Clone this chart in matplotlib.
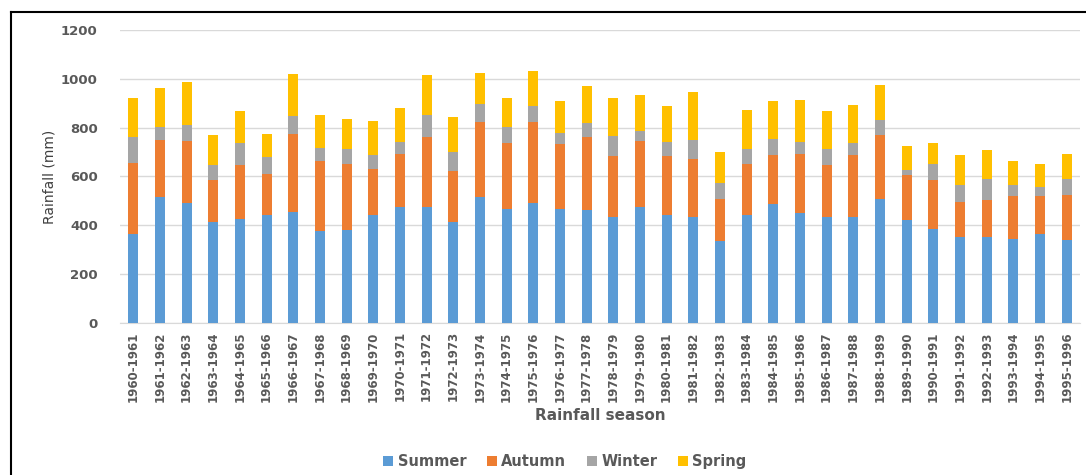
import matplotlib.pyplot as plt
import numpy as np

seasons = ['1960-1961', '1961-1962', '1962-1963', '1963-1964', '1964-1965', '1965-1966',
           '1966-1967', '1967-1968', '1968-1969', '1969-1970', '1970-1971', '1971-1972',
           '1972-1973', '1973-1974', '1974-1975', '1975-1976', '1976-1977', '1977-1978',
           '1978-1979', '1979-1980', '1980-1981', '1981-1982', '1982-1983', '1983-1984',
           '1984-1985', '1985-1986', '1986-1987', '1987-1988', '1988-1989', '1989-1990',
           '1990-1991', '1991-1992', '1992-1993', '1993-1994', '1994-1995', '1995-1996']

summer = [366, 514, 491, 412, 427, 441, 454, 378, 382, 443, 473, 473,
          412, 514, 466, 491, 468, 461, 436, 473, 443, 434, 337, 443,
          487, 450, 434, 432, 507, 420, 385, 351, 351, 344, 364, 341]
autumn = [291, 236, 255, 175, 221, 170, 319, 286, 270, 189, 220, 288,
          211, 308, 271, 334, 264, 300, 246, 274, 239, 238, 172, 208,
          202, 243, 214, 257, 261, 184, 199, 143, 154, 178, 158, 184]
winter = [103, 51, 66, 58, 91, 68, 73, 52, 61, 54, 50, 92,
          77, 76, 64, 62, 45, 57, 82, 40, 61, 78, 64, 62,
          65, 50, 64, 50, 64, 23, 67, 69, 84, 41, 35, 64]
spring = [161, 161, 174, 123, 131, 93, 172, 135, 122, 142, 137, 162,
          142, 125, 122, 146, 134, 153, 159, 145, 144, 195, 127, 160,
          153, 171, 158, 152, 141, 96, 86, 123, 120, 101, 95, 103]

series = [('Summer', summer, '#5B9BD5'),
          ('Autumn', autumn, '#ED7D31'),
          ('Winter', winter, '#A5A5A5'),
          ('Spring', spring, '#FFC000')]

fig = plt.figure(figsize=(10.86, 4.75), dpi=100)
ax = fig.add_axes([0.1105, 0.32, 0.884, 0.617])

x = np.arange(len(seasons))
bottom = np.zeros(len(seasons))
for name, vals, col in series:
    ax.bar(x, vals, 0.38, bottom=bottom, color=col, label=name, zorder=3)
    bottom += np.array(vals)

ax.set_xlim(-0.5, len(seasons) - 0.5)
ax.set_ylim(0, 1200)
ax.set_yticks(range(0, 1201, 200))
ax.grid(axis='y', color='#D9D9D9', linewidth=1, zorder=0)
for s in ['top', 'right', 'left']:
    ax.spines[s].set_visible(False)
ax.spines['bottom'].set_color('#D9D9D9')
ax.tick_params(length=0, colors='#595959')
ax.set_xticks(x)
ax.set_xticklabels(seasons, rotation=90, fontsize=8.5, fontweight='bold', color='#595959')
for lab in ax.get_yticklabels():
    lab.set_fontsize(9.5)
    lab.set_fontweight('bold')
ax.tick_params(axis='y', pad=16)
ax.tick_params(axis='x', pad=6)

ax.set_xlabel('Rainfall season', fontsize=11, fontweight='bold', color='#595959', labelpad=4)
ax.set_ylabel('Rainfall (mm)', fontsize=10, color='#404040', labelpad=3)

ax.legend(loc='center', bbox_to_anchor=(0.52, 0.028), bbox_transform=fig.transFigure,
          ncol=4, frameon=False,
          handlelength=0.7, handleheight=0.7, handletextpad=0.3, columnspacing=1.4,
          prop={'size': 10.5, 'weight': 'bold'}, labelcolor='#595959')

# frame lines along top and left
fig.add_artist(plt.Line2D([0.0101, 0.0101], [0, 0.975], color='black', linewidth=1.5, transform=fig.transFigure))
fig.add_artist(plt.Line2D([0.0101, 1.0], [0.975, 0.975], color='black', linewidth=1.5, transform=fig.transFigure))

fig.savefig('out.png', dpi=100)
